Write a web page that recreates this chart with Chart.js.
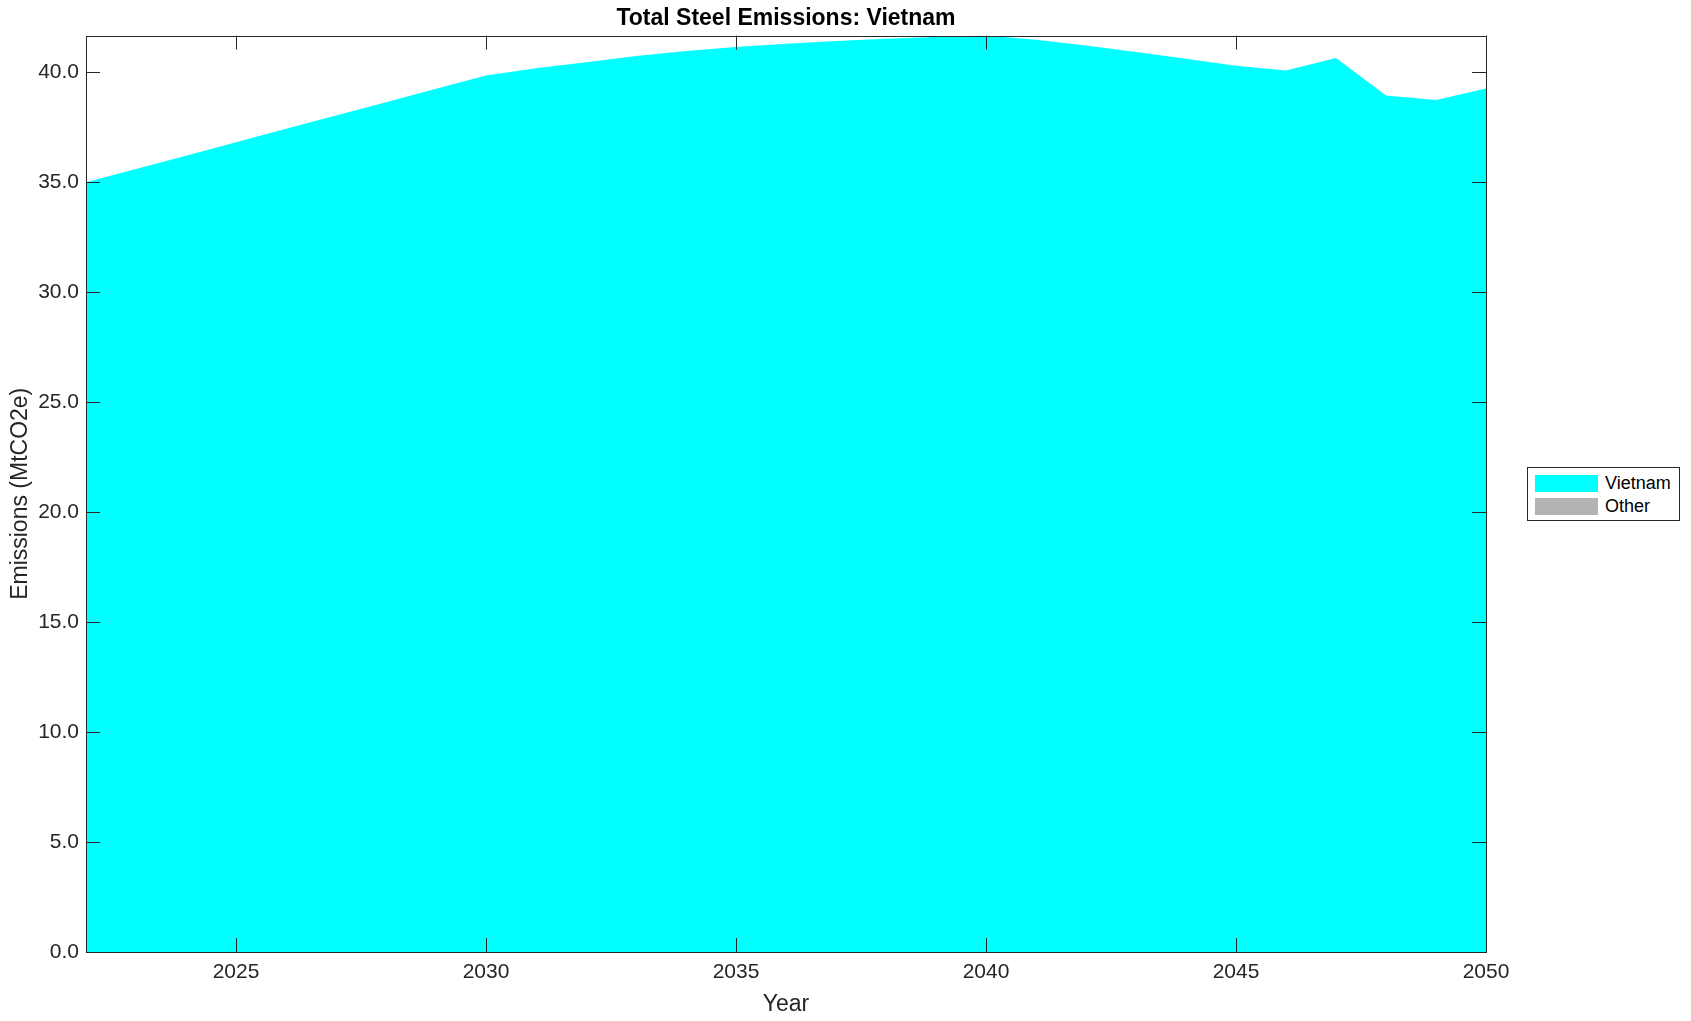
<!DOCTYPE html>
<html>
<head>
<meta charset="utf-8">
<title>Total Steel Emissions: Vietnam</title>
<script src="https://cdn.jsdelivr.net/npm/chart.js@4.4.1/dist/chart.umd.min.js"></script>
<style>
    body { margin: 0; background: #fff; font-family: "Liberation Sans", Arial, sans-serif; }
    #wrap { position: relative; width: 1691px; height: 1021px; }
    #legend {
        position: absolute; left: 1527px; top: 467px; width: 153px; height: 54px;
        border: 1px solid #262626; background: #fff; box-sizing: border-box;
        padding: 4px 0 0 7px;
    }
    .legend-row { display: flex; align-items: center; height: 23px; font-size: 18px; color: #000; }
    .legend-swatch { width: 63px; height: 17px; margin-right: 7px; }
</style>
</head>
<body>
<div id="wrap">
    <canvas id="chart" width="1691" height="1021"></canvas>
    <div id="legend"></div>
</div>
<script>
// --- DATA ---
const years = [2022, 2023, 2024, 2025, 2026, 2027, 2028, 2029, 2030, 2031, 2032, 2033, 2034, 2035,
               2036, 2037, 2038, 2039, 2040, 2041, 2042, 2043, 2044, 2045, 2046, 2047, 2048, 2049, 2050];
const vietnam = [35.0, 35.6, 36.21, 36.82, 37.43, 38.04, 38.64, 39.25, 39.86, 40.18, 40.46, 40.74, 40.97, 41.15,
                 41.3, 41.43, 41.53, 41.61, 41.67, 41.48, 41.22, 40.92, 40.62, 40.3, 40.08, 40.65, 38.95, 38.74, 39.26];
const other = years.map(() => 0); // no "Other" emissions in this scenario
const xTicks = [2025, 2030, 2035, 2040, 2045, 2050];
const yTicks = [0, 5, 10, 15, 20, 25, 30, 35, 40];

const AXIS_COLOR = '#262626';
const FONT = '"Liberation Sans", Arial, sans-serif';
const TICK_LEN = 14;

// --- PLUGINS ---
// MATLAB-style box with inward ticks on all four sides
const boxTicks = {
    id: 'boxTicks',
    afterDatasetsDraw(chart) {
        const { ctx, chartArea: a, scales } = chart;
        ctx.save();
        ctx.strokeStyle = AXIS_COLOR;
        ctx.lineWidth = 1;
        ctx.beginPath();
        scales.x.ticks.forEach(t => {
            const px = Math.round(scales.x.getPixelForValue(t.value)) + 0.5;
            ctx.moveTo(px, a.bottom); ctx.lineTo(px, a.bottom - TICK_LEN);
            ctx.moveTo(px, a.top); ctx.lineTo(px, a.top + TICK_LEN);
        });
        scales.y.ticks.forEach(t => {
            const py = Math.round(scales.y.getPixelForValue(t.value)) + 0.5;
            ctx.moveTo(a.left, py); ctx.lineTo(a.left + TICK_LEN, py);
            ctx.moveTo(a.right, py); ctx.lineTo(a.right - TICK_LEN, py);
        });
        ctx.stroke();
        ctx.strokeRect(Math.round(a.left) + 0.5, Math.round(a.top) + 0.5,
                       Math.round(a.right - a.left), Math.round(a.bottom - a.top));
        ctx.restore();
    }
};

// --- CHART ---
const totals = vietnam.map((v, i) => v + other[i]);

const chart = new Chart(document.getElementById('chart'), {
    type: 'line',
    data: {
        labels: years,
        datasets: [
            {
                label: 'Vietnam',
                data: years.map((y, i) => ({ x: y, y: vietnam[i] })),
                backgroundColor: '#00ffff',
                borderColor: 'rgba(0,0,0,0)',
                fill: 'origin',
                pointRadius: 0,
                tension: 0
            },
            {
                label: 'Other',
                data: years.map((y, i) => ({ x: y, y: other[i] })),
                backgroundColor: '#b3b3b3',
                borderColor: 'rgba(0,0,0,0)',
                fill: '-1',
                pointRadius: 0,
                tension: 0
            }
        ]
    },
    options: {
        responsive: false,
        animation: false,
        layout: { padding: { left: 0, right: 205, top: 0, bottom: 0 } },
        plugins: {
            legend: { display: false },
            tooltip: { enabled: false },
            title: {
                display: true,
                text: 'Total Steel Emissions: Vietnam',
                color: '#000',
                fullSize: false,
                font: { family: FONT, size: 23, weight: 'bold' },
                padding: { top: 5, bottom: 3 }
            }
        },
        scales: {
            x: {
                type: 'linear',
                min: years[0],
                max: years[years.length - 1],
                afterBuildTicks: s => { s.ticks = xTicks.map(v => ({ value: v })); },
                afterFit: s => { s.height = 69; },
                grid: { display: false, drawTicks: false },
                border: { display: false },
                ticks: {
                    color: AXIS_COLOR,
                    font: { family: FONT, size: 21 },
                    padding: 8,
                    maxRotation: 0,
                    callback: v => String(v)
                },
                title: {
                    display: true,
                    text: 'Year',
                    color: AXIS_COLOR,
                    font: { family: FONT, size: 23 },
                    padding: { top: 4, bottom: 3 }
                }
            },
            y: {
                stacked: true,
                min: 0,
                max: Math.max(...totals),
                afterBuildTicks: s => { s.ticks = yTicks.map(v => ({ value: v })); },
                afterFit: s => { s.width = 86; },
                grid: { display: false, drawTicks: false },
                border: { display: false },
                ticks: {
                    color: AXIS_COLOR,
                    font: { family: FONT, size: 21 },
                    padding: 7,
                    callback: v => Number(v).toFixed(1)
                },
                title: {
                    display: true,
                    text: 'Emissions (MtCO2e)',
                    color: AXIS_COLOR,
                    font: { family: FONT, size: 23 },
                    padding: { top: 7, bottom: 4 }
                }
            }
        }
    },
    plugins: [boxTicks]
});

// --- LEGEND ---
function renderLegend(datasets) {
    const box = document.getElementById('legend');
    datasets.forEach(ds => {
        const row = `
            <div class="legend-row">
                <span class="legend-swatch" style="background:${ds.backgroundColor}"></span>
                <span>${ds.label}</span>
            </div>
        `;
        box.insertAdjacentHTML('beforeend', row);
    });
}

renderLegend(chart.data.datasets);
</script>
</body>
</html>
